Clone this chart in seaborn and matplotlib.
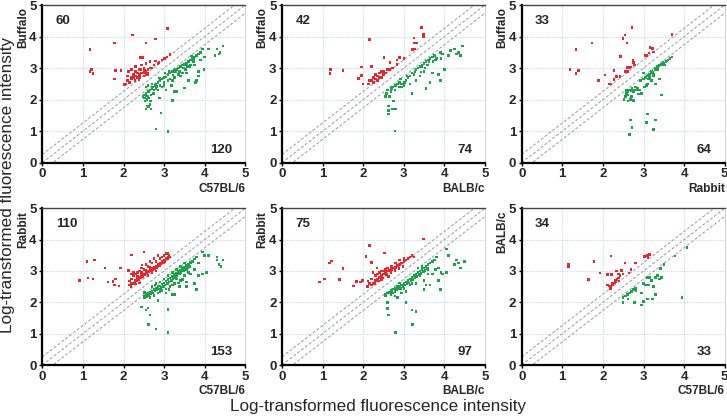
"""
Six pairwise scatter panels of log-transformed fluorescence intensity
(up / down spots coloured red / green, with the identity line and +/- band).
"""

import matplotlib

matplotlib.use("Agg")

import matplotlib.pyplot as plt
import numpy as np
import pandas as pd
import seaborn as sns

# ---------------------------------------------------------------- data
# Panel 1: C57BL/6 (x) vs Buffalo (y)
P1_UP = [
    (1.17, 3.58), (1.17, 2.90), (1.21, 2.95), (1.25, 2.83), (1.78, 3.79), (1.81, 2.92),
    (1.78, 2.66), (2.22, 4.05), (2.55, 3.79), (2.79, 3.92), (3.09, 4.26), (1.94, 2.92),
    (2.42, 3.34), (2.48, 3.34), (2.79, 3.22), (2.87, 3.17), (3.01, 3.30), (3.07, 3.35),
    (3.15, 3.43), (2.05, 2.50), (2.10, 2.60), (2.15, 2.55), (2.20, 2.65), (2.25, 2.70),
    (2.30, 2.75), (2.35, 2.70), (2.40, 2.80), (2.45, 2.85), (2.50, 2.85), (2.55, 2.90),
    (2.60, 2.95), (2.65, 3.00), (2.70, 3.00), (2.12, 2.90), (2.20, 2.95), (2.30, 3.05),
    (2.40, 2.95), (2.50, 3.00), (2.55, 2.80), (2.60, 2.85), (2.35, 2.85), (2.28, 2.60),
    (2.18, 2.70), (2.10, 2.75), (2.45, 3.10), (2.55, 3.15), (2.65, 3.20), (2.75, 3.10),
    (2.85, 3.15), (2.95, 3.25), (3.00, 3.30), (2.30, 2.90), (2.40, 2.70), (2.50, 2.75),
    (2.60, 2.78), (2.42, 2.95), (2.52, 2.92), (2.02, 2.48), (2.25, 2.80), (2.38, 2.62),
]
P1_DOWN = [
    (2.55, 1.70), (2.62, 1.78), (2.68, 1.70), (2.58, 1.80), (2.65, 1.85), (2.92, 1.57),
    (2.80, 1.07), (3.10, 0.98), (2.88, 2.05), (3.20, 1.98), (3.25, 2.25), (3.30, 2.25),
    (3.50, 2.37), (3.60, 2.60), (3.78, 2.55), (3.80, 2.60), (3.85, 2.75), (3.98, 2.95),
    (3.85, 2.90), (3.95, 3.60), (4.10, 3.60), (4.30, 3.60), (4.35, 3.45), (4.38, 3.50),
    (4.45, 3.70), (4.25, 3.40), (4.00, 3.35), (3.90, 3.25), (3.72, 3.20), (3.75, 3.10),
    (3.58, 3.05), (3.55, 2.85), (3.45, 2.85), (3.40, 2.75), (3.20, 2.60), (3.18, 2.45),
    (3.10, 2.60), (3.00, 2.55), (3.05, 2.30), (2.95, 2.40), (2.85, 2.30), (2.50, 2.15),
    (2.52, 2.05), (2.55, 2.20), (2.58, 2.00), (2.60, 2.10), (2.62, 2.25), (2.65, 2.30),
    (2.68, 2.15), (2.70, 2.35), (2.72, 2.40), (2.75, 2.30), (2.78, 2.45), (2.80, 2.50),
    (2.83, 2.42), (2.85, 2.55), (2.90, 2.60), (2.95, 2.65), (3.00, 2.70), (3.05, 2.72),
    (3.10, 2.80), (3.15, 2.85), (3.20, 2.90), (3.25, 2.92), (3.30, 2.95), (3.35, 3.00),
    (3.40, 3.05), (3.45, 3.10), (3.50, 3.12), (3.55, 3.15), (3.60, 3.20), (3.65, 3.25),
    (3.70, 3.30), (3.75, 3.35), (3.80, 3.40), (3.85, 3.45), (3.90, 3.50), (2.55, 2.40),
    (2.60, 2.45), (2.70, 2.50), (2.88, 2.68), (3.02, 2.85), (3.12, 2.90), (3.22, 2.78),
    (3.28, 2.88), (3.38, 2.90), (3.48, 3.00), (3.62, 3.05), (3.68, 3.38), (3.72, 3.28),
    (2.48, 2.10), (2.53, 1.95), (2.57, 2.12), (2.63, 2.05), (2.66, 1.95), (2.74, 2.20),
    (2.80, 2.35), (2.90, 2.45), (3.00, 2.45), (3.15, 2.65), (3.25, 2.70), (3.35, 2.80),
    (3.52, 2.95), (3.65, 3.10),
]

# Panel 2: BALB/c (x) vs Buffalo (y)
P2_UP = [
    (1.20, 2.95), (1.18, 2.82), (1.50, 2.93), (2.15, 3.90), (1.96, 3.03), (1.96, 2.77),
    (1.88, 2.67), (2.00, 2.50), (2.13, 2.50), (2.21, 3.05), (2.51, 3.33), (2.66, 3.17),
    (2.83, 3.25), (2.83, 3.11), (2.89, 3.33), (3.00, 3.30), (3.22, 3.58), (3.27, 3.60),
    (3.25, 3.95), (3.26, 3.80), (3.32, 3.80), (3.44, 4.28), (3.48, 4.06), (3.49, 4.00),
    (2.20, 2.60), (2.25, 2.70), (2.30, 2.65), (2.35, 2.75), (2.40, 2.85), (2.45, 2.90),
    (2.30, 2.80), (2.25, 2.55), (2.35, 2.60), (2.40, 2.70), (2.50, 2.90), (2.55, 2.85),
    (2.60, 2.95), (2.65, 2.95), (2.72, 3.00), (2.50, 2.80), (2.45, 2.70), (2.15, 2.60),
]
P2_DOWN = [
    (2.78, 1.00), (2.62, 1.55), (2.62, 1.65), (2.63, 1.80), (2.72, 1.70), (2.80, 1.70),
    (2.75, 1.95), (2.65, 2.10), (2.55, 2.10), (2.58, 2.20), (2.60, 2.30), (2.70, 2.35),
    (2.72, 2.40), (2.80, 2.45), (2.85, 2.50), (2.90, 2.55), (2.95, 2.50), (3.00, 2.45),
    (2.78, 2.30), (2.88, 2.40), (3.05, 2.60), (3.10, 2.70), (3.15, 2.75), (3.20, 2.85),
    (3.25, 2.80), (3.30, 2.95), (3.35, 3.00), (3.40, 3.05), (3.45, 3.10), (3.50, 3.15),
    (3.55, 3.20), (3.60, 3.25), (3.65, 3.30), (3.70, 3.35), (3.75, 3.40), (3.80, 3.30),
    (3.20, 2.20), (3.15, 2.50), (3.40, 2.75), (3.50, 2.90), (3.55, 2.35), (3.65, 2.55),
    (3.70, 2.85), (3.85, 2.80), (3.90, 2.60), (3.95, 3.45), (4.00, 2.95), (4.10, 3.40),
    (4.15, 3.55), (4.25, 3.60), (4.30, 3.45), (4.40, 3.40), (4.35, 3.50), (4.45, 3.70),
    (3.90, 3.50), (3.92, 3.30), (3.30, 2.60), (3.45, 3.05), (3.58, 3.10), (3.62, 3.20),
    (3.02, 2.55), (3.42, 2.88), (3.52, 3.00), (2.68, 2.25), (2.92, 2.65), (3.28, 2.90),
    (3.72, 3.20), (3.78, 3.25), (2.95, 2.40), (3.08, 2.75),
]

# Panel 3: Rabbit (x) vs Buffalo (y)
P3_UP = [
    (1.19, 2.95), (1.34, 2.82), (1.40, 2.92), (1.34, 3.59), (1.73, 3.80), (1.89, 2.60),
    (2.05, 2.78), (2.16, 2.50), (2.19, 2.50), (2.27, 2.63), (2.27, 2.92), (2.34, 2.74),
    (2.42, 2.74), (2.44, 3.37), (2.50, 3.94), (2.54, 4.05), (2.59, 3.80), (2.72, 4.29),
    (2.54, 2.89), (2.60, 2.89), (2.60, 3.02), (2.68, 3.04), (2.75, 3.18), (2.78, 3.10),
    (2.74, 3.24), (3.04, 3.39), (3.08, 3.39), (3.14, 3.48), (3.16, 3.65), (3.22, 3.63),
    (3.25, 3.51), (3.70, 4.06), (2.65, 3.00),
]
P3_DOWN = [
    (2.52, 2.00), (2.55, 2.10), (2.58, 2.20), (2.60, 2.25), (2.62, 2.15), (2.65, 2.30),
    (2.68, 2.00), (2.70, 2.10), (2.72, 2.35), (2.75, 2.25), (2.78, 2.30), (2.80, 2.40),
    (2.85, 2.35), (2.90, 2.30), (2.62, 1.95), (2.75, 1.98), (2.95, 2.20), (3.00, 2.65),
    (3.02, 2.40), (3.05, 2.70), (3.10, 2.75), (3.12, 2.65), (3.15, 2.80), (3.18, 2.85),
    (3.20, 2.90), (3.25, 2.80), (3.28, 2.95), (3.30, 3.00), (3.35, 3.05), (3.40, 3.10),
    (3.45, 3.12), (3.50, 3.15), (3.55, 3.20), (3.60, 3.25), (3.65, 3.30), (3.70, 3.35),
    (3.20, 2.60), (3.30, 2.50), (3.40, 2.65), (3.45, 2.15), (3.10, 2.50), (3.15, 2.70),
    (3.25, 2.75), (3.00, 2.85), (2.92, 2.60), (3.08, 2.45), (2.65, 0.90), (2.68, 1.35),
    (2.72, 1.12), (3.10, 1.55), (3.07, 1.28), (3.25, 1.05), (3.30, 1.35), (2.85, 2.32),
    (2.88, 2.18), (2.70, 2.28), (3.38, 3.08), (3.48, 3.18), (3.52, 3.10), (3.58, 3.22),
    (3.35, 2.95), (3.22, 2.87), (3.12, 2.78), (2.58, 2.28),
]

# Panel 4: C57BL/6 (x) vs Rabbit (y)
P4_UP = [
    (0.91, 2.69), (1.10, 3.30), (1.13, 2.77), (1.29, 3.35), (1.25, 2.74), (1.54, 3.09),
    (1.62, 2.65), (1.74, 2.67), (1.81, 2.75), (1.78, 2.55), (1.89, 2.52), (1.92, 3.09),
    (2.19, 3.51), (2.50, 3.60), (2.46, 3.19), (2.13, 3.01), (2.15, 2.55), (2.20, 2.60),
    (2.25, 2.62), (2.30, 2.70), (2.35, 2.75), (2.40, 2.80), (2.45, 2.85), (2.50, 2.90),
    (2.55, 2.95), (2.60, 3.00), (2.65, 3.05), (2.70, 3.10), (2.75, 3.12), (2.80, 3.15),
    (2.85, 3.20), (2.90, 3.25), (2.95, 3.30), (3.00, 3.35), (3.05, 3.40), (3.10, 3.45),
    (3.12, 3.50), (2.20, 2.75), (2.25, 2.85), (2.30, 2.90), (2.35, 2.95), (2.40, 3.00),
    (2.50, 3.05), (2.60, 3.15), (2.70, 3.25), (2.80, 3.30), (2.90, 3.40), (3.00, 3.50),
    (3.05, 3.55), (2.95, 3.45), (2.85, 3.50), (2.75, 3.40), (2.65, 3.30), (2.55, 3.20),
    (2.45, 3.10), (2.20, 2.90), (2.28, 2.65), (2.18, 2.50), (2.22, 2.58), (2.32, 2.68),
    (2.38, 2.72), (2.42, 2.78), (2.48, 2.82), (2.52, 2.88), (2.58, 2.92), (2.62, 2.98),
    (2.68, 3.02), (2.72, 3.05), (2.78, 3.08), (2.82, 3.12), (2.88, 3.18), (2.92, 3.22),
    (2.98, 3.28), (3.02, 3.30), (3.08, 3.38), (2.25, 2.95), (2.35, 2.82), (2.45, 2.95),
    (2.55, 3.02), (2.65, 3.12), (2.40, 2.62), (2.30, 2.58), (2.15, 2.68), (2.60, 2.85),
    (2.70, 2.95), (2.80, 3.00), (3.10, 3.55), (3.15, 3.45),
]
P4_DOWN = [
    (2.45, 1.85), (2.55, 1.75), (2.60, 1.82), (2.65, 1.60), (2.62, 1.30), (2.80, 1.15),
    (3.10, 1.03), (3.10, 1.77), (2.85, 2.05), (3.05, 2.30), (3.20, 2.25), (3.25, 2.25),
    (3.55, 2.50), (3.55, 2.65), (3.75, 2.60), (3.80, 2.40), (3.85, 2.85), (3.95, 2.90),
    (4.05, 2.95), (4.00, 3.50), (3.95, 3.60), (4.10, 3.50), (4.30, 3.35), (4.35, 3.20),
    (4.40, 3.15), (4.45, 3.35), (4.30, 3.45), (3.85, 3.25), (3.70, 3.30), (3.75, 3.05),
    (3.65, 2.90), (3.55, 3.05), (3.50, 2.85), (3.40, 2.70), (3.30, 2.75), (3.20, 2.55),
    (3.00, 2.50), (2.90, 2.35), (2.50, 2.20), (2.52, 2.15), (2.55, 2.25), (2.60, 2.30),
    (2.65, 2.32), (2.70, 2.35), (2.75, 2.40), (2.80, 2.45), (2.85, 2.50), (2.90, 2.52),
    (2.95, 2.58), (3.00, 2.62), (3.05, 2.68), (3.10, 2.72), (3.15, 2.78), (3.20, 2.82),
    (3.25, 2.88), (3.30, 2.92), (3.35, 2.98), (3.40, 3.02), (3.45, 3.08), (3.50, 3.12),
    (3.55, 3.18), (3.60, 3.22), (3.65, 3.28), (3.70, 3.32), (3.75, 3.38), (3.80, 3.45),
    (2.58, 2.18), (2.62, 2.22), (2.68, 2.28), (2.72, 2.30), (2.78, 2.38), (2.82, 2.40),
    (2.88, 2.42), (2.92, 2.48), (2.98, 2.50), (3.02, 2.55), (3.08, 2.60), (3.12, 2.65),
    (3.18, 2.70), (3.22, 2.75), (3.28, 2.80), (3.32, 2.85), (3.38, 2.90), (3.42, 2.95),
    (3.48, 3.00), (3.52, 3.05), (3.58, 3.10), (3.62, 3.15), (2.70, 2.50), (2.80, 2.60),
    (2.90, 2.65), (3.00, 2.75), (3.10, 2.85), (3.20, 2.95), (3.30, 3.05), (3.40, 3.15),
    (3.50, 3.25), (2.75, 2.22), (2.85, 2.30), (2.95, 2.38), (3.05, 2.42), (3.15, 2.50),
    (3.25, 2.60), (3.35, 2.62), (3.45, 2.72), (2.52, 2.32), (2.65, 2.15), (2.78, 2.55),
    (3.12, 2.40), (3.38, 2.50), (3.60, 2.95),
]

# Panel 5: BALB/c (x) vs Rabbit (y)
P5_UP = [
    (0.92, 2.65), (1.05, 2.75), (1.17, 3.25), (1.22, 3.32), (1.42, 2.72), (1.50, 3.07),
    (1.76, 2.52), (1.84, 2.67), (1.93, 2.65), (1.99, 2.70), (2.07, 3.47), (2.15, 3.81),
    (2.21, 3.28), (2.52, 3.57), (3.49, 4.02), (2.24, 2.95), (2.34, 3.10), (2.10, 2.50),
    (2.20, 2.55), (2.25, 2.62), (2.30, 2.70), (2.35, 2.75), (2.40, 2.80), (2.45, 2.85),
    (2.50, 2.90), (2.55, 2.95), (2.60, 3.00), (2.65, 3.02), (2.70, 3.05), (2.75, 3.10),
    (2.80, 3.12), (2.85, 3.18), (2.90, 3.20), (2.95, 3.25), (3.00, 3.30), (3.05, 3.35),
    (3.10, 3.40), (3.15, 3.45), (3.20, 3.50), (3.25, 3.45), (2.20, 2.75), (2.30, 2.85),
    (2.40, 2.95), (2.50, 3.00), (2.60, 3.10), (2.70, 3.15), (2.80, 3.25), (2.90, 3.35),
    (3.00, 3.40), (2.15, 2.60), (2.28, 2.60), (2.38, 2.68), (2.48, 2.78), (2.58, 2.88),
    (2.68, 2.95), (2.78, 3.02), (2.88, 3.08), (2.98, 3.15), (2.35, 2.90), (2.45, 3.00),
    (2.55, 3.05), (2.12, 2.68), (2.45, 2.72), (2.62, 2.82),
]
P5_DOWN = [
    (2.79, 1.03), (3.22, 1.30), (3.20, 1.75), (3.30, 1.70), (2.62, 1.60), (2.60, 1.80),
    (2.60, 2.00), (3.05, 2.00), (2.55, 2.20), (3.50, 2.40), (3.55, 2.55), (3.65, 2.55),
    (3.90, 2.40), (3.85, 2.70), (3.95, 2.90), (4.05, 2.95), (4.10, 3.50), (4.05, 3.70),
    (4.30, 3.35), (4.35, 3.25), (4.40, 3.10), (4.50, 3.30), (4.25, 3.20), (3.78, 3.05),
    (3.70, 2.90), (3.60, 3.05), (3.50, 2.70), (3.40, 2.85), (3.30, 2.60), (3.20, 2.60),
    (3.05, 2.35), (2.95, 2.30), (2.85, 2.15), (2.78, 2.20), (2.55, 2.25), (2.60, 2.30),
    (2.65, 2.32), (2.70, 2.38), (2.75, 2.42), (2.80, 2.45), (2.85, 2.50), (2.90, 2.52),
    (2.95, 2.55), (3.00, 2.60), (3.05, 2.65), (3.10, 2.70), (3.15, 2.75), (3.20, 2.80),
    (3.25, 2.85), (3.30, 2.90), (3.35, 2.95), (3.40, 3.00), (3.45, 3.05), (3.50, 3.10),
    (3.55, 3.15), (3.60, 3.20), (3.65, 3.25), (3.70, 3.30), (3.75, 3.35), (3.80, 3.45),
    (2.68, 2.25), (2.72, 2.30), (2.78, 2.35), (2.82, 2.40), (2.88, 2.42), (2.92, 2.45),
    (2.98, 2.50), (3.02, 2.55), (3.08, 2.58), (3.12, 2.62), (3.18, 2.68), (3.22, 2.72),
    (3.28, 2.78), (3.32, 2.82), (3.38, 2.88), (3.42, 2.92), (3.48, 2.98), (3.52, 3.02),
    (3.58, 3.08), (3.45, 3.15), (3.35, 3.10), (2.90, 2.62), (3.00, 2.45), (3.15, 2.55),
    (3.60, 2.90), (3.85, 3.10), (3.92, 2.95),
]

# Panel 6: C57BL/6 (x) vs BALB/c (y)
P6_UP = [
    (1.15, 3.20), (1.16, 3.13), (1.64, 2.72), (1.78, 3.30), (1.93, 2.93), (2.11, 2.88),
    (2.20, 3.48), (2.54, 3.26), (2.80, 3.26), (2.69, 3.05), (2.64, 2.94), (2.46, 3.02),
    (2.34, 3.00), (2.38, 2.91), (2.21, 2.89), (3.03, 3.47), (3.11, 3.43), (3.15, 3.52),
    (3.10, 3.50), (2.30, 2.70), (2.35, 2.72), (2.40, 2.68), (2.32, 2.65), (2.38, 2.78),
    (2.25, 2.55), (2.20, 2.50), (2.15, 2.52), (2.18, 2.45), (2.12, 2.55), (2.28, 2.62),
    (2.22, 2.60), (2.42, 2.85), (2.50, 2.90),
]
P6_DOWN = [
    (2.50, 2.15), (2.55, 2.20), (2.60, 2.25), (2.65, 2.30), (2.70, 2.35), (2.50, 2.00),
    (2.62, 2.10), (2.75, 2.40), (2.80, 2.45), (2.82, 2.38), (2.78, 2.00), (2.95, 1.92),
    (3.00, 2.02), (3.10, 2.10), (2.95, 2.30), (3.05, 2.55), (3.00, 2.60), (3.12, 2.55),
    (3.15, 2.80), (3.20, 2.70), (3.25, 2.50), (3.30, 2.25), (3.22, 2.10), (3.10, 2.80),
    (3.30, 2.80), (3.35, 2.85), (3.40, 2.75), (3.45, 2.80), (3.42, 3.08), (3.50, 3.20),
    (3.78, 3.48), (4.07, 3.75), (3.95, 2.15),
]

X_LABELS = ["C57BL/6", "BALB/c", "Rabbit", "C57BL/6", "BALB/c", "C57BL/6"]
Y_LABELS = ["Buffalo", "Buffalo", "Buffalo", "Rabbit", "Rabbit", "BALB/c"]
UP_COUNTS = ["60", "42", "33", "110", "75", "34"]
DOWN_COUNTS = ["120", "74", "64", "153", "97", "33"]
PANELS = [
    (P1_UP, P1_DOWN), (P2_UP, P2_DOWN), (P3_UP, P3_DOWN),
    (P4_UP, P4_DOWN), (P5_UP, P5_DOWN), (P6_UP, P6_DOWN),
]
AXIS_TITLE = "Log-transformed fluorescence intensity"
BAND = 0.26  # fold-change band around the identity line (log units)

RED = "#e8262b"
GREEN = "#1ba34b"
GRID = "#c9d9ea"


def to_frame(up, down):
    frames = []
    for pts, kind in ((up, "up"), (down, "down")):
        arr = np.asarray(pts, dtype=float)
        frames.append(pd.DataFrame({"x": arr[:, 0], "y": arr[:, 1], "kind": kind}))
    return pd.concat(frames, ignore_index=True)


def main():
    sns.set_theme(style="white")
    plt.rcParams["font.family"] = ["Liberation Sans", "DejaVu Sans"]

    W, H = 727, 416
    fig = plt.figure(figsize=(W / 100, H / 100), dpi=100)

    lefts = [42.3, 282.0, 521.7]
    width = 203.0
    rows = [(5.0, 162.7), (208.3, 365.0)]  # (top px, bottom px)

    for i, (up, down) in enumerate(PANELS):
        r, c = divmod(i, 3)
        top, bottom = rows[r]
        ax = fig.add_axes([
            lefts[c] / W, 1 - bottom / H, width / W, (bottom - top) / H
        ])
        df = to_frame(up, down)

        ax.set_xlim(0, 5)
        ax.set_ylim(0, 5)
        ax.set_xticks(range(6))
        ax.set_yticks(range(6))
        for v in range(1, 5):
            ax.axvline(v, color=GRID, linestyle=(0, (1, 1)), linewidth=0.8, zorder=0)
            ax.axhline(v, color=GRID, linestyle=(0, (1, 1)), linewidth=0.8, zorder=0)

        diag = np.array([0.0, 5.0])
        for off in (BAND, 0.0, -BAND):
            ax.plot(diag, diag + off, color="#9a9a9a", linestyle=(0, (3, 2)),
                    linewidth=0.7, zorder=1)

        sns.scatterplot(
            data=df, x="x", y="y", hue="kind",
            palette={"up": RED, "down": GREEN},
            marker="s", s=3.5, linewidth=0, legend=False, ax=ax, zorder=3,
        )

        ax.set_xlabel("")
        ax.set_ylabel("")
        for side in ("left", "bottom"):
            ax.spines[side].set_color("black")
            ax.spines[side].set_linewidth(1.6)
        ax.spines["top"].set_color("#444444")
        ax.spines["top"].set_linewidth(1.0)
        ax.spines["right"].set_color("#c8c8c8")
        ax.spines["right"].set_linewidth(0.6)

        ax.tick_params(axis="both", which="major", length=2.5, width=1.0,
                       pad=1.5, labelsize=9.5, color="black",
                       bottom=True, left=True)
        for lab in ax.get_xticklabels() + ax.get_yticklabels():
            lab.set_fontweight("bold")

        ax.text(0.33, 4.5, UP_COUNTS[i], fontsize=9.5, fontweight="bold",
                ha="left", va="center")
        ax.text(4.68, 0.4, DOWN_COUNTS[i], fontsize=9.5, fontweight="bold",
                ha="right", va="center")
        ax.text(1.0, -0.165, X_LABELS[i], transform=ax.transAxes, fontsize=8.5,
                fontweight="bold", ha="right", va="center")
        ax.text(-0.095, 0.985, Y_LABELS[i], transform=ax.transAxes, fontsize=8.5,
                fontweight="bold", ha="center", va="top", rotation=90)

    fig.text(8 / W, 1 - 185 / H, AXIS_TITLE, rotation=90, fontsize=12.3,
             ha="center", va="center")
    fig.text(378 / W, 1 - 407 / H, AXIS_TITLE, fontsize=12.3,
             ha="center", va="center")

    fig.savefig("out.png", dpi=100)
    plt.close(fig)


if __name__ == "__main__":
    main()
